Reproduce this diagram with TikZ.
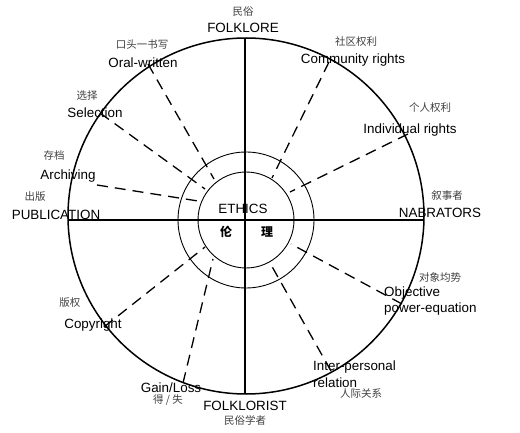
\documentclass[tikz,border=0pt]{standalone}
\usepackage{fontspec}
\setmainfont{Liberation Sans}
\newfontfamily\cjk{Noto Sans CJK SC}
\begin{document}
\begin{tikzpicture}[x=1pt,y=-1pt,
  lab/.style={font=\fontsize{13.4}{15}\selectfont, inner sep=0pt, anchor=base},
  zh/.style={font=\cjk\fontsize{10.5}{12}\selectfont, inner sep=0pt, text=black!75},
  ray/.style={line width=1.3pt, dash pattern=on 11pt off 7pt},
  axisline/.style={line width=2.6pt},
]
\useasboundingbox (0,0) rectangle (520,433);
% circles
\coordinate (C) at (246,216);
\coordinate (E) at (246,220);
\draw[line width=1.5pt] (C) circle[radius=178pt];
\draw[line width=0.9pt] (E) circle[radius=68pt];
\draw[line width=0.9pt] (E) circle[radius=48pt];
% axes
\coordinate (top) at (245,38);
\coordinate (bot) at (245,393);
\coordinate (lft) at (68,220);
\coordinate (rgt) at (424,220);
\draw[axisline] (top) -- (bot);
\draw[axisline] (lft) -- (rgt);
% ray end points
\coordinate (o1) at (148,64);  \coordinate (i1) at (214,179);
\coordinate (o2) at (100,113); \coordinate (i2) at (205,189);
\coordinate (o3) at (97,185);  \coordinate (i3) at (198,201);
\coordinate (o4) at (329,62);  \coordinate (i4) at (272,178);
\coordinate (o5) at (408,134); \coordinate (i5) at (290,192);
\coordinate (o6) at (402,304); \coordinate (i6) at (291,244);
\coordinate (o7) at (331,371); \coordinate (i7) at (270,263);
\coordinate (o8) at (183,383); \coordinate (i8) at (213,259);
\coordinate (o9) at (104,327); \coordinate (i9) at (205,247);
\foreach \k in {1,...,9} \draw[ray] (o\k) -- (i\k);
% labels
\node[zh] (zfolk) at (243,12) {民俗};
\node[lab] (folk) at (243,33) {FOLKLORE};
\node[zh] (zoral) at (142,45) {口头一书写};
\node[lab] (oral) at (143,68) {Oral-written};
\node[zh] (zsel) at (87,96) {选择};
\node[lab] (sel) at (95,118) {Selection};
\node[zh] (zarc) at (54,156) {存档};
\node[lab] (arc) at (68,180) {Archiving};
\node[zh] (zpub) at (35,197) {出版};
\node[lab] (pub) at (56,219) {PUBLICATION};
\node[zh] (zcom) at (356,42) {社区权利};
\node[lab] (com) at (353,64) {Community rights};
\node[zh] (zind) at (430,108) {个人权利};
\node[lab] (ind) at (410,134) {Individual rights};
\node[zh] (znar) at (447,196) {叙事者};
\node[lab] (nar) at (440,218) {NABRATORS};
\node[zh] (zobj) at (440,277) {对象均势};
\node[lab, anchor=base west] (obj) at (384,296) {Objective};
\node[lab, anchor=base west] (pow) at (384,312) {power-equation};
\node[lab, anchor=base west] (inter) at (313,370) {Inter-personal};
\node[lab, anchor=base west] (rel) at (313,387) {relation};
\node[zh] (zinter) at (361,394) {人际关系};
\node[zh] (zcopy) at (70,303) {版权};
\node[lab] (copy) at (93,328) {Copyright};
\node[lab] (gain) at (171,392) {Gain/Loss};
\node[zh] (zgain) at (168,400) {得 / 失};
\node[lab] (folkst) at (245,410) {FOLKLORIST};
\node[zh] (zfolkst) at (245,420) {民俗学者};
\node[lab] (eth) at (243,214) {ETHICS};
\node[zh, text=black, font=\cjk\fontsize{12}{14}\selectfont\bfseries] (lun) at (226,232) {伦};
\node[zh, text=black, font=\cjk\fontsize{12}{14}\selectfont\bfseries] (li) at (267,232) {理};
\end{tikzpicture}
\end{document}
